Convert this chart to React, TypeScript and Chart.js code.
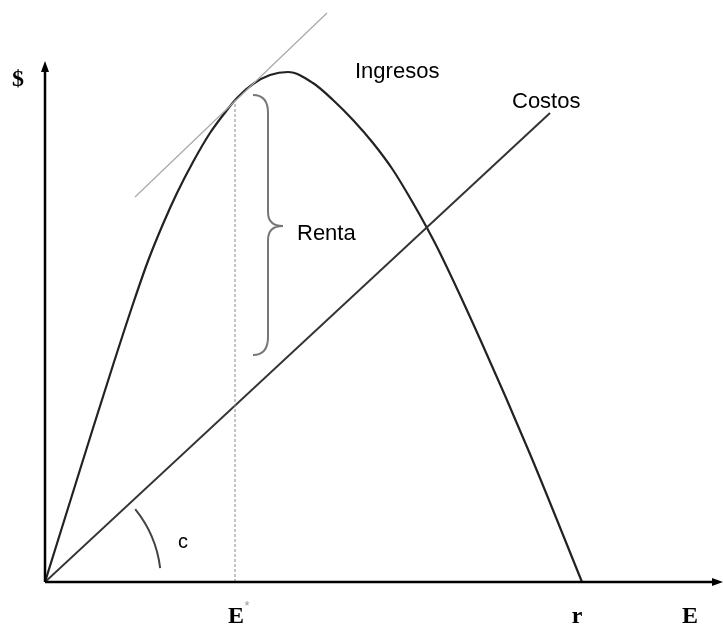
import React, { useEffect, useRef } from "react";
import { Chart, registerables } from "chart.js";
Chart.register(...registerables);

// Ingresos (revenue) curve
const ingresosX = [0, 29, 49, 69, 89, 103, 118, 132, 148, 165, 182, 192, 208, 225, 243, 268, 288, 308, 328, 348, 368, 382, 395, 435, 485, 537];
const ingresosY = [0, 93, 157, 220, 281, 321, 358, 389, 420, 449, 472, 484, 498, 507, 510, 499, 482, 462, 439, 412, 379, 354, 329, 243, 128, 0];
// Costos (cost) line
const costosX = [0, 505];
const costosY = [0, 469];
// Tangent to Ingresos at E*
const tangenteX = [90, 282];
const tangenteY = [385, 569];
// E* position
const eStar = 190;
const eStarTop = 482;
// x-axis labels
const xLabelValues = [191, 532, 645];
const xLabelTexts = ["E", "r", "E"];
// Renta brace (x: ends, spine, tip; y: top, middle, bottom)
const braceXs = [208, 223, 238];
const braceYs = [487, 356, 227];

const X_MAX = 677;
const Y_MAX = 522;

const toPts = (xs: number[], ys: number[]) => xs.map((x, i) => ({ x, y: ys[i] }));

const decor = {
  id: "decor",
  afterDraw(chart: any) {
    const { ctx, chartArea, scales } = chart;
    const xs = scales.x;
    const ys = scales.y;
    const L = chartArea.left;
    const B = chartArea.bottom;
    ctx.save();
    // axes
    ctx.strokeStyle = "#000";
    ctx.fillStyle = "#000";
    ctx.lineWidth = 2.5;
    ctx.beginPath();
    ctx.moveTo(L, B);
    ctx.lineTo(L, 68);
    ctx.moveTo(L, B);
    ctx.lineTo(716, B);
    ctx.stroke();
    ctx.beginPath();
    ctx.moveTo(L, 61);
    ctx.lineTo(L - 4, 72);
    ctx.lineTo(L + 4, 72);
    ctx.closePath();
    ctx.fill();
    ctx.beginPath();
    ctx.moveTo(723, B);
    ctx.lineTo(712, B - 4);
    ctx.lineTo(712, B + 4);
    ctx.closePath();
    ctx.fill();

    // brace
    const bx0 = xs.getPixelForValue(braceXs[0]);
    const bx1 = xs.getPixelForValue(braceXs[1]);
    const bx2 = xs.getPixelForValue(braceXs[2]);
    const by0 = ys.getPixelForValue(braceYs[0]);
    const by1 = ys.getPixelForValue(braceYs[1]);
    const by2 = ys.getPixelForValue(braceYs[2]);
    ctx.strokeStyle = "#777";
    ctx.lineWidth = 2;
    ctx.beginPath();
    ctx.moveTo(bx0, by0);
    ctx.quadraticCurveTo(bx1, by0, bx1, by0 + 18);
    ctx.lineTo(bx1, by1 - 14);
    ctx.quadraticCurveTo(bx1, by1, bx2, by1);
    ctx.quadraticCurveTo(bx1, by1, bx1, by1 + 14);
    ctx.lineTo(bx1, by2 - 18);
    ctx.quadraticCurveTo(bx1, by2, bx0, by2);
    ctx.stroke();

    // angle arc c
    const ox = xs.getPixelForValue(0);
    const oy = ys.getPixelForValue(0);
    ctx.strokeStyle = "#444";
    ctx.lineWidth = 2;
    ctx.beginPath();
    ctx.arc(ox, oy, 116, -0.68, -0.12);
    ctx.stroke();

    // texts
    ctx.fillStyle = "#000";
    ctx.textBaseline = "alphabetic";
    ctx.textAlign = "left";
    ctx.font = '22px "Liberation Sans", Arial, sans-serif';
    ctx.fillText("Ingresos", 355, 78);
    ctx.fillText("Costos", 512, 108);
    ctx.fillText("Renta", bx2 + 14, by1 + 14);
    ctx.font = '20px "Liberation Sans", Arial, sans-serif';
    ctx.fillText("c", 178, 548);

    ctx.font = 'bold 24px "Liberation Serif", serif';
    ctx.fillText("$", 12, 86);
    ctx.textAlign = "center";
    xLabelValues.forEach((v, i) => {
      ctx.fillText(xLabelTexts[i], xs.getPixelForValue(v), 623);
    });
    ctx.font = '13px "Liberation Sans", sans-serif';
    ctx.fillStyle = "#999";
    ctx.fillText("*", xs.getPixelForValue(xLabelValues[0]) + 11, 610);
    ctx.restore();
  },
};

export default function App() {
  const ref = useRef<HTMLCanvasElement | null>(null);
  useEffect(() => {
    if (!ref.current) return;
    const chart = new Chart(ref.current, {
      type: "scatter",
      data: {
        datasets: [
          {
            label: "Tangente",
            data: toPts(tangenteX, tangenteY),
            showLine: true,
            borderColor: "#a8a8a8",
            borderWidth: 1.2,
            pointRadius: 0,
            clip: false as any,
          },
          {
            label: "E*",
            data: [
              { x: eStar, y: 0 },
              { x: eStar, y: eStarTop },
            ],
            showLine: true,
            borderColor: "#888",
            borderWidth: 1,
            borderDash: [3, 2],
            pointRadius: 0,
          },
          {
            label: "Costos",
            data: toPts(costosX, costosY),
            showLine: true,
            borderColor: "#333",
            borderWidth: 2,
            pointRadius: 0,
          },
          {
            label: "Ingresos",
            data: toPts(ingresosX, ingresosY),
            showLine: true,
            borderColor: "#222",
            borderWidth: 2.2,
            pointRadius: 0,
            cubicInterpolationMode: "monotone",
            tension: 0.4,
          },
        ],
      },
      options: {
        animation: false,
        responsive: true,
        maintainAspectRatio: false,
        layout: { padding: { left: 45, right: 1, top: 60, bottom: 44 } },
        plugins: { legend: { display: false }, tooltip: { enabled: false } },
        scales: {
          x: { type: "linear", min: 0, max: X_MAX, display: false },
          y: { type: "linear", min: 0, max: Y_MAX, display: false },
        },
      },
      plugins: [decor],
    });
    return () => chart.destroy();
  }, []);
  return (
    <div style={{ position: "fixed", left: 0, top: 0, width: 723, height: 626, background: "#fff" }}>
      <canvas ref={ref} />
    </div>
  );
}
